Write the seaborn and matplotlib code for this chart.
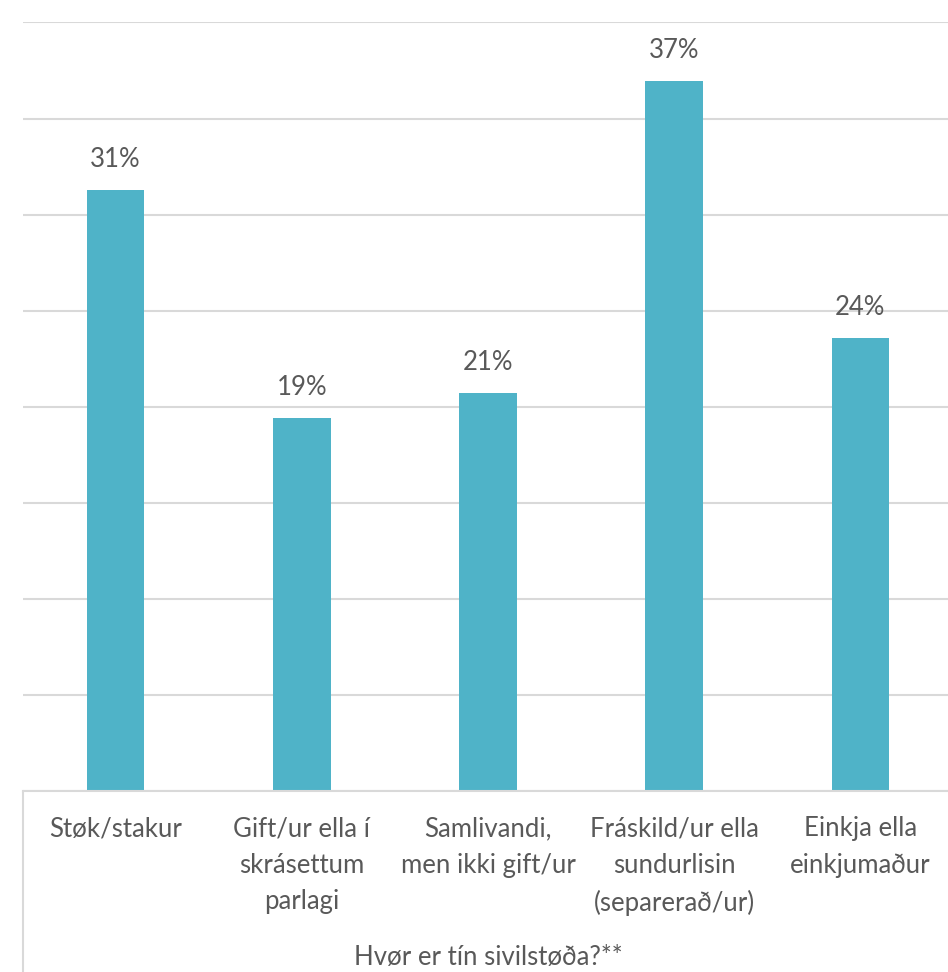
import matplotlib
matplotlib.use("Agg")
import matplotlib.pyplot as plt
import seaborn as sns
import pandas as pd
from matplotlib.lines import Line2D

categories = [
    "Støk/stakur",
    "Gift/ur ella í\nskrásettum\nparlagi",
    "Samlivandi,\nmen ikki gift/ur",
    "Fráskild/ur ella\nsundurlisin\n(separerað/ur)",
    "Einkja ella\neinkjumaður",
]
values = [31.3, 19.4, 20.7, 36.95, 23.6]
axis_title = "Hvør er tín sivilstøða?**"

df = pd.DataFrame({"cat": categories, "val": values})

sns.set_style("white")
plt.rcParams["font.family"] = ["Lato", "DejaVu Sans"]

W, H = 948, 972
fig = plt.figure(figsize=(W / 100, H / 100), dpi=100)
left, right, top, base = 22.5, 953.5, 22.5, 791
ax = fig.add_axes([left / W, 1 - base / H, (right - left) / W, (base - top) / H])

bar_color = "#4fb3c8"
txt = "#595959"
grid = "#d9d9d9"
fs = 18.5

sns.barplot(data=df, x="cat", y="val", color=bar_color, width=0.31,
            saturation=1, ax=ax, edgecolor="none")

ax.set_ylim(0, 40)
ax.set_xlim(-0.5, 4.5)
ax.set_yticks(range(0, 41, 5))
ax.yaxis.grid(True, color=grid, linewidth=1.5)
ax.set_axisbelow(True)
ax.set_yticklabels([])
ax.tick_params(axis="y", length=0)
for s in ["left", "right", "top"]:
    ax.spines[s].set_visible(False)
ax.spines["bottom"].set_color(grid)
ax.spines["bottom"].set_linewidth(1.5)

for i, v in enumerate(values):
    ax.annotate(f"{round(v)}%", (i, v), xytext=(0, 13), textcoords="offset points",
                ha="center", va="bottom", fontsize=fs, color=txt)

ax.set_xticks(range(len(categories)))
ax.set_xticklabels(categories, fontsize=fs, color=txt, linespacing=1.58)
ax.tick_params(axis="x", length=0, pad=18)
ax.set_xlabel("")
ax.set_ylabel("")

fig.text((left + right) / 2 / W, 1 - 957 / H, axis_title, ha="center", va="center",
         fontsize=fs, color=txt)

fig.add_artist(Line2D([left / W, left / W], [0, 1 - base / H], transform=fig.transFigure,
                      color=grid, linewidth=1.5))

fig.savefig("out.png", dpi=100, facecolor="white")
